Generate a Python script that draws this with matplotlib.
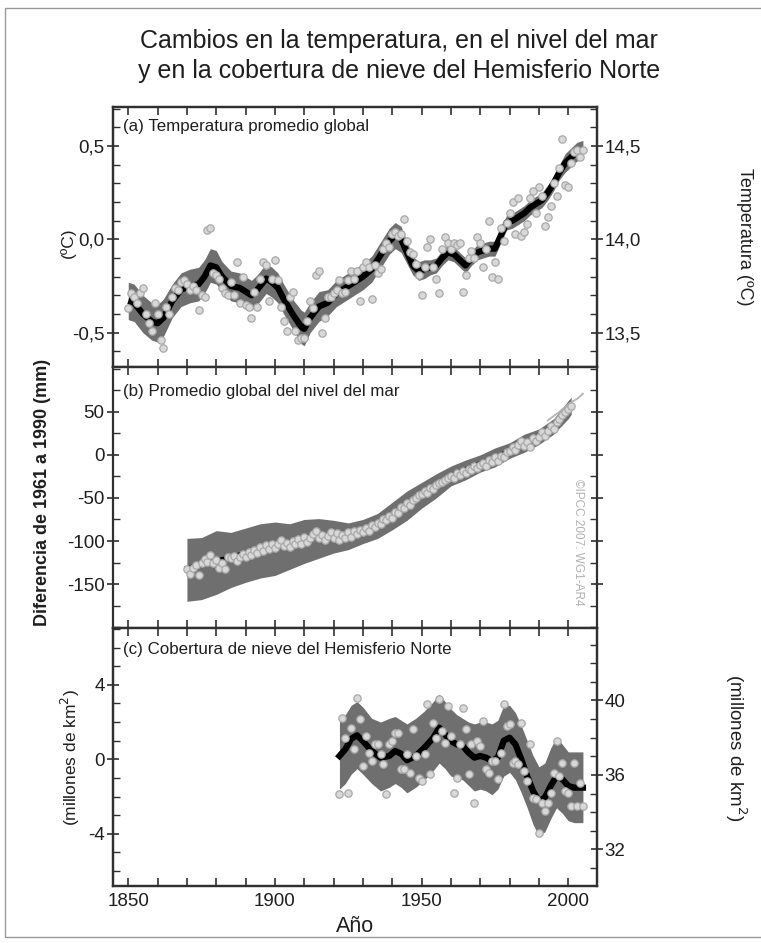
import numpy as np
import matplotlib
matplotlib.use("Agg")
import matplotlib.pyplot as plt
from matplotlib.ticker import MultipleLocator, FixedLocator, FixedFormatter
from matplotlib.patches import Rectangle

plt.rcParams['font.family'] = ['Liberation Sans', 'DejaVu Sans']
plt.rcParams['axes.unicode_minus'] = False

# ---------------- data ----------------
TITLE = "Cambios en la temperatura, en el nivel del mar\ny en la cobertura de nieve del Hemisferio Norte"

# (a) global mean temperature anomaly (ºC), annual 1850-2005
temp_years = list(range(1850, 2006))
temp_values = [
    -0.37, -0.29, -0.31, -0.34, -0.29, -0.26, -0.40, -0.45, -0.49, -0.34,
    -0.40, -0.54, -0.58, -0.36, -0.40, -0.31, -0.26, -0.27, -0.23, -0.22,
    -0.24, -0.27, -0.25, -0.27, -0.38, -0.30, -0.31, 0.05, 0.06, -0.18,
    -0.19, -0.21, -0.26, -0.29, -0.30, -0.23, -0.30, -0.12, -0.34, -0.20,
    -0.35, -0.36, -0.42, -0.28, -0.36, -0.21, -0.12, -0.14, -0.33, -0.21,
    -0.11, -0.22, -0.36, -0.44, -0.49, -0.31, -0.28, -0.49, -0.54, -0.53,
    -0.53, -0.44, -0.33, -0.37, -0.19, -0.17, -0.50, -0.42, -0.31, -0.31,
    -0.29, -0.27, -0.22, -0.29, -0.28, -0.22, -0.17, -0.21, -0.17, -0.33,
    -0.15, -0.12, -0.15, -0.32, -0.14, -0.18, -0.16, -0.05, -0.02, -0.04,
    0.03, 0.04, 0.02, 0.03, 0.11, -0.01, -0.07, -0.08, -0.13, -0.19,
    -0.30, -0.15, -0.04, 0.00, -0.15, -0.21, -0.29, -0.05, 0.01, -0.02,
    -0.05, -0.02, -0.03, -0.02, -0.28, -0.19, -0.10, -0.06, -0.10, 0.01,
    -0.02, -0.15, -0.05, 0.10, -0.20, -0.12, -0.21, 0.06, -0.01, 0.09,
    0.14, 0.20, 0.03, 0.22, 0.02, 0.04, 0.08, 0.22, 0.26, 0.14,
    0.28, 0.23, 0.07, 0.12, 0.18, 0.30, 0.23, 0.38, 0.54, 0.29,
    0.28, 0.41, 0.47, 0.48, 0.44, 0.48,
]
temp_smooth_years = [1850, 1852, 1855, 1858, 1860, 1862, 1865, 1868, 1871, 1874,
                     1876, 1878, 1880, 1882, 1885, 1888, 1890, 1892, 1894, 1897,
                     1899, 1901, 1903, 1906, 1909, 1910, 1912, 1915, 1918, 1921,
                     1924, 1927, 1930, 1933, 1935, 1937, 1939, 1941, 1943, 1945,
                     1947, 1949, 1951, 1953, 1955, 1957, 1959, 1961, 1963, 1965,
                     1967, 1969, 1971, 1973, 1975, 1977, 1979, 1981, 1983, 1985,
                     1987, 1989, 1991, 1993, 1995, 1997, 1999, 2001, 2003, 2005]
temp_smooth = [-0.33, -0.34, -0.40, -0.44, -0.45, -0.42, -0.33, -0.27, -0.25, -0.24,
               -0.20, -0.14, -0.15, -0.20, -0.25, -0.26, -0.28, -0.30, -0.27, -0.21,
               -0.23, -0.26, -0.32, -0.40, -0.47, -0.48, -0.42, -0.36, -0.34, -0.29,
               -0.26, -0.23, -0.20, -0.16, -0.11, -0.06, -0.01, 0.02, 0.00, -0.07,
               -0.14, -0.17, -0.16, -0.15, -0.14, -0.10, -0.07, -0.08, -0.11, -0.14,
               -0.10, -0.07, -0.06, -0.05, -0.05, 0.02, 0.09, 0.10, 0.12, 0.14,
               0.17, 0.19, 0.21, 0.25, 0.30, 0.36, 0.41, 0.44, 0.47, 0.48]
temp_band_half = [0.10, 0.10, 0.10, 0.10, 0.10, 0.10, 0.09, 0.09, 0.09, 0.09,
                  0.09, 0.09, 0.09, 0.08, 0.08, 0.08, 0.08, 0.08, 0.08, 0.08,
                  0.08, 0.08, 0.08, 0.08, 0.09, 0.09, 0.08, 0.08, 0.07, 0.07,
                  0.07, 0.07, 0.07, 0.07, 0.07, 0.07, 0.07, 0.07, 0.07, 0.06,
                  0.05, 0.05, 0.05, 0.04, 0.04, 0.04, 0.04, 0.04, 0.04, 0.04,
                  0.04, 0.04, 0.04, 0.04, 0.04, 0.04, 0.04, 0.04, 0.04, 0.04,
                  0.04, 0.04, 0.04, 0.04, 0.04, 0.04, 0.05, 0.05, 0.05, 0.05]

# (b) global mean sea level (mm), annual 1870-2001
sea_years = list(range(1870, 2002))
sea_values = [
    -133, -138, -131, -128, -140, -126, -121, -124, -116, -125,
    -122, -131, -126, -132, -119, -120, -117, -123, -118, -115,
    -119, -113, -116, -111, -114, -107, -112, -105, -109, -103,
    -108, -104, -99, -106, -102, -107, -100, -103, -98, -104,
    -95, -101, -96, -92, -88, -97, -93, -99, -94, -90,
    -96, -91, -99, -93, -97, -90, -95, -88, -92, -87,
    -90, -85, -88, -82, -84, -79, -80, -74, -76, -71,
    -73, -66, -68, -60, -62, -56, -58, -52, -50, -47,
    -46, -42, -44, -38, -40, -35, -33, -31, -29, -27,
    -24, -27, -21, -23, -19, -21, -16, -18, -13, -15,
    -12, -9, -13, -6, -8, -3, -7, -1, -2, 3,
    4, 9, 6, 12, 16, 10, 15, 9, 19, 16,
    21, 26, 22, 28, 33, 30, 38, 42, 46, 50,
    53, 57,
]
sea_smooth_years = [1870, 1875, 1880, 1885, 1890, 1895, 1900, 1905, 1910, 1915,
                    1920, 1925, 1930, 1935, 1940, 1945, 1950, 1955, 1960, 1965,
                    1970, 1975, 1980, 1985, 1990, 1995, 2000, 2001]
sea_smooth = [-132, -127, -123, -119, -114, -109, -104, -101, -96, -94,
              -93, -92, -88, -81, -70, -59, -46, -36, -24, -17,
              -10, -4, 5, 13, 22, 34, 52, 56]
sea_upper = [-97, -96, -88, -90, -85, -80, -78, -80, -75, -74,
             -76, -79, -75, -68, -55, -42, -32, -22, -13, -6,
             0, 8, 14, 24, 30, 42, 63, 67]
sea_lower = [-170, -168, -162, -154, -148, -143, -140, -133, -126, -120,
             -114, -110, -103, -97, -87, -76, -62, -50, -36, -29,
             -20, -14, -4, 3, 12, 24, 42, 47]
sat_years = [1993, 1995, 1997, 1999, 2001, 2003, 2005]
sat_values = [40, 45, 50, 56, 61, 65, 71]

# (c) NH snow cover anomaly (millones de km²), annual 1922-2005
snow_years = list(range(1922, 2006))
snow_values = [
    -1.88, 2.24, 1.16, -1.79, 1.70, 0.54, 3.30, 2.15,
    -0.36, 1.25, 0.36, -0.09, 0.80, 0.80, 0.27, -0.27, -1.88, 0.80,
    0.98, 1.43, 1.43, -0.54, -0.54, 0.27, -0.72, 1.61, 0.18, -0.98,
    -1.16, 0.30, 2.95, -0.80, 1.97, 1.16, 3.22, 1.52, 0.89, 2.86,
    1.25, -1.79, -0.98, 0.80, 2.77, 1.61, -0.80, 0.80, -2.33, 0.98,
    0.72, 2.06, -0.54, -0.72, -0.09, -0.09, -1.07, 0.36, 2.95, 1.79,
    1.88, -0.18, -0.09, -0.27, 1.97, -0.60, -1.16, 0.80, -2.06, -2.15,
    -3.94, -2.33, -2.77, -2.33, -1.79, -0.72, 0.98, -0.90, -0.18, -1.70,
    -1.79, -2.50, -0.18, -2.50, -1.25, -2.50,
]
snow_smooth_years = [1922, 1924, 1926, 1928, 1930, 1933, 1936, 1939, 1941, 1943,
                     1945, 1948, 1951, 1954, 1956, 1958, 1960, 1962, 1964, 1966,
                     1968, 1970, 1972, 1974, 1976, 1978, 1980, 1982, 1984, 1986,
                     1988, 1990, 1992, 1994, 1996, 1998, 2000, 2002, 2005]
snow_smooth = [0.18, 0.54, 1.10, 1.29, 0.98, 0.45, 0.09, 0.18, 0.45, 0.30,
               -0.05, 0.18, 0.63, 1.16, 1.70, 1.34, 0.98, 0.80, 0.72, 0.36,
               0.09, 0.18, 0.09, -0.09, 0.10, 1.00, 1.16, 0.80, 0.00, -0.90,
               -1.70, -2.24, -2.06, -1.43, -0.90, -1.07, -1.43, -1.52, -1.52]
snow_upper = [2.0, 2.4, 2.9, 3.1, 2.8, 2.2, 2.0, 2.2, 2.3, 2.1,
              1.9, 2.2, 2.6, 3.1, 3.5, 3.1, 2.7, 2.4, 2.2, 2.0,
              1.9, 2.0, 2.0, 1.9, 2.1, 2.9, 2.9, 2.5, 1.8, 1.0,
              0.2, -0.4, -0.2, 0.6, 1.2, 0.8, 0.4, 0.4, 0.4]
snow_lower = [-1.6, -1.3, -0.8, -0.5, -0.8, -1.3, -1.7, -1.5, -1.3, -1.5,
              -1.8, -1.5, -1.1, -0.6, -0.2, -0.5, -0.9, -1.0, -1.1, -1.4,
              -1.7, -1.6, -1.7, -1.9, -1.6, -0.9, -0.7, -1.1, -1.8, -2.6,
              -3.5, -4.1, -3.9, -3.2, -2.6, -2.9, -3.3, -3.4, -3.4]

x_ticks = [1850, 1900, 1950, 2000]
a_ticks = [-0.5, 0.0, 0.5]
a_ticklabels = ["-0,5", "0,0", "0,5"]
a_right_ticks = [13.5, 14.0, 14.5]
a_right_ticklabels = ["13,5", "14,0", "14,5"]
b_ticks = [-150, -100, -50, 0, 50]
b_ticklabels = ["-150", "-100", "-50", "0", "50"]
c_ticks = [-4, 0, 4]
c_ticklabels = ["-4", "0", "4"]
c_right_ticks = [32, 36, 40]
c_right_ticklabels = ["32", "36", "40"]

# ---------------- style ----------------
BAND = "#6f6f6f"
DOT_FACE = "#d8d8d8"
DOT_EDGE = "#a8a8a8"
SPINE = "#303030"
TXT = "#1e1e1e"
TICK_FS = 13.5

fig = plt.figure(figsize=(7.61, 9.43), dpi=100)
fig.patches.append(Rectangle((5 / 761, 6 / 943), 1.2, 1 - 14 / 943,
                             transform=fig.transFigure, fill=False,
                             edgecolor="#9a9a9a", linewidth=1.0))

L, W = 113 / 761, 484 / 761
ax_a = fig.add_axes([L, 1 - 367 / 943, W, 260 / 943])
ax_b = fig.add_axes([L, 1 - 628 / 943, W, 261 / 943])
ax_c = fig.add_axes([L, 1 - 886 / 943, W, 258 / 943])

XLIM = (1844.8, 2009.8)


def style_axis(ax, show_x):
    ax.set_xlim(*XLIM)
    ax.xaxis.set_major_locator(FixedLocator(x_ticks))
    ax.xaxis.set_minor_locator(MultipleLocator(10))
    ax.tick_params(axis="x", which="both", direction="in", top=True, bottom=True,
                   length=6, width=1.2, color=SPINE, labelsize=TICK_FS,
                   labelcolor=TXT, pad=5, labelbottom=show_x)
    ax.tick_params(axis="y", which="major", direction="inout", length=9,
                   width=1.2, color=SPINE, labelsize=TICK_FS, labelcolor=TXT, pad=1.5)
    ax.tick_params(axis="y", which="minor", direction="in", length=5,
                   width=1.0, color=SPINE)
    for s in ax.spines.values():
        s.set_linewidth(1.6)
        s.set_color(SPINE)


def twin_style(ax2):
    ax2.tick_params(axis="y", which="major", direction="inout", length=9,
                    width=1.2, color=SPINE, labelsize=TICK_FS, labelcolor=TXT, pad=1)
    ax2.tick_params(axis="y", which="minor", direction="in", length=5,
                    width=1.0, color=SPINE)
    for s in ax2.spines.values():
        s.set_linewidth(1.6)
        s.set_color(SPINE)


dot_kw = dict(s=28, facecolor=DOT_FACE, edgecolor=DOT_EDGE, linewidths=0.9, zorder=4)

# ---- panel a ----
ts = np.array(temp_smooth)
th = np.array(temp_band_half)
ax_a.fill_between(temp_smooth_years, ts - th, ts + th, color=BAND, lw=0, zorder=1)
ax_a.plot(temp_smooth_years, ts, color="black", lw=4.5, zorder=3, solid_capstyle="butt")
ax_a.scatter(temp_years, temp_values, **dot_kw)
ax_a.set_ylim(-0.684, 0.709)
style_axis(ax_a, False)
ax_a.yaxis.set_major_locator(FixedLocator(a_ticks))
ax_a.yaxis.set_major_formatter(FixedFormatter(a_ticklabels))
ax_a.yaxis.set_minor_locator(MultipleLocator(0.1))
ax_a.text(0.02, 0.955, "(a) Temperatura promedio global", transform=ax_a.transAxes,
          ha="left", va="top", fontsize=12.2, color=TXT)
ax_a2 = ax_a.twinx()
ax_a2.set_ylim(-0.684 + 14.0, 0.709 + 14.0)
ax_a2.yaxis.set_major_locator(FixedLocator(a_right_ticks))
ax_a2.yaxis.set_major_formatter(FixedFormatter(a_right_ticklabels))
ax_a2.yaxis.set_minor_locator(MultipleLocator(0.1))
twin_style(ax_a2)

# ---- panel b ----
ax_b.fill_between(sea_smooth_years, sea_lower, sea_upper, color=BAND, lw=0, zorder=1)
ax_b.plot(sea_smooth_years, sea_smooth, color="black", lw=3.5, zorder=2)
ax_b.plot(sat_years, sat_values, color="#b4b4b4", lw=1.3, zorder=3)
ax_b.scatter(sea_years, sea_values, **dot_kw)
ax_b.set_ylim(-201, 102)
style_axis(ax_b, False)
ax_b.yaxis.set_major_locator(FixedLocator(b_ticks))
ax_b.yaxis.set_major_formatter(FixedFormatter(b_ticklabels))
ax_b.yaxis.set_minor_locator(MultipleLocator(25))
ax_b.tick_params(axis="y", which="both", right=True)
ax_b.text(0.02, 0.935, "(b) Promedio global del nivel del mar", transform=ax_b.transAxes,
          ha="left", va="top", fontsize=12.2, color=TXT)
ax_b.text(0.961, 0.33, "©IPCC 2007: WG1-AR4", transform=ax_b.transAxes,
          rotation=-90, ha="center", va="center", fontsize=8.5, color="#b0b0b0")

# ---- panel c ----
ax_c.fill_between(snow_smooth_years, snow_lower, snow_upper, color=BAND, lw=0, zorder=1)
ax_c.plot(snow_smooth_years, snow_smooth, color="black", lw=4.5, zorder=3)
ax_c.scatter(snow_years, snow_values, **dot_kw)
ax_c.set_ylim(-6.8, 7.05)
style_axis(ax_c, True)
ax_c.yaxis.set_major_locator(FixedLocator(c_ticks))
ax_c.yaxis.set_major_formatter(FixedFormatter(c_ticklabels))
ax_c.yaxis.set_minor_locator(MultipleLocator(1))
ax_c.text(0.02, 0.945, "(c) Cobertura de nieve del Hemisferio Norte", transform=ax_c.transAxes,
          ha="left", va="top", fontsize=12.2, color=TXT)
ax_c.set_xlabel("Año", fontsize=15.5, color=TXT, labelpad=4)
ax_c2 = ax_c.twinx()
ax_c2.set_ylim(-6.8 + 36.84, 7.05 + 36.84)
ax_c2.yaxis.set_major_locator(FixedLocator(c_right_ticks))
ax_c2.yaxis.set_major_formatter(FixedFormatter(c_right_ticklabels))
ax_c2.yaxis.set_minor_locator(MultipleLocator(1))
twin_style(ax_c2)

# ---- axis titles ----
fig.text(68 / 761, 1 - 243 / 943, "(ºC)", rotation=90, ha="center", va="center",
         fontsize=12.5, color=TXT)
fig.text(744 / 761, 1 - 237 / 943, "Temperatura (ºC)", rotation=270, ha="center",
         va="center", fontsize=13, color=TXT)
fig.text(43 / 761, 1 - 492 / 943, "Diferencia de 1961 a 1990 (mm)", rotation=90,
         ha="center", va="center", fontsize=13, fontweight="bold", color=TXT)
fig.text(70 / 761, 1 - 758 / 943, "(millones de km$^2$)", rotation=90, ha="center",
         va="center", fontsize=12.5, color=TXT)
fig.text(736 / 761, 1 - 748 / 943, "(millones de km$^2$)", rotation=270, ha="center",
         va="center", fontsize=13.5, color=TXT)

fig.text(399 / 761, 1 - 56 / 943, TITLE, ha="center", va="center", fontsize=18,
         color=TXT, linespacing=1.3)

fig.savefig("out.png", dpi=100)
